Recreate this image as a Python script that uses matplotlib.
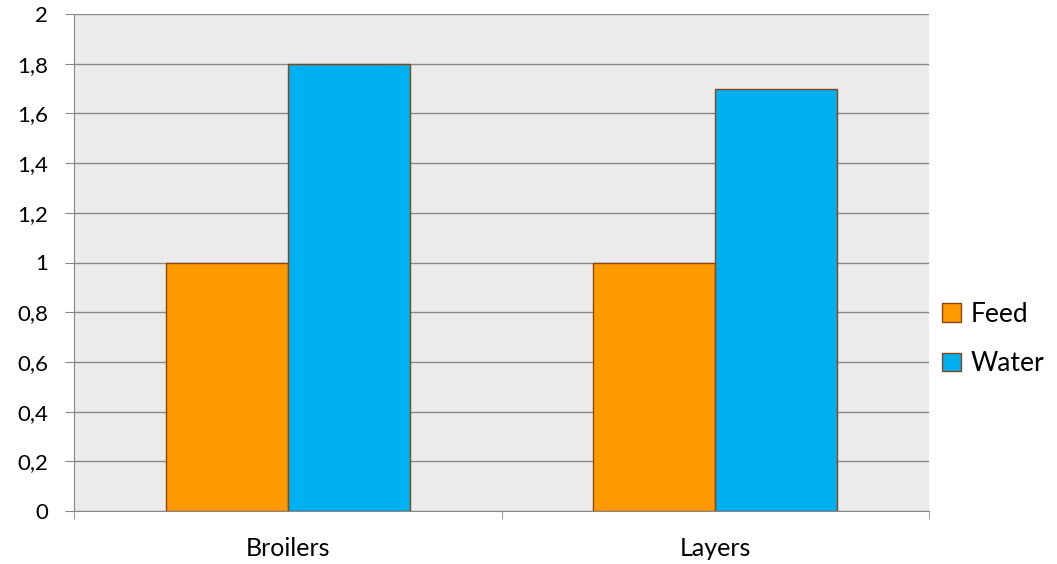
import matplotlib.pyplot as plt
import numpy as np

categories = ["Broilers", "Layers"]
feed = [1.0, 1.0]
water = [1.8, 1.7]
y_ticks = [0, 0.2, 0.4, 0.6, 0.8, 1.0, 1.2, 1.4, 1.6, 1.8, 2.0]
y_labels = ["0", "0,2", "0,4", "0,6", "0,8", "1", "1,2", "1,4", "1,6", "1,8", "2"]

plt.rcParams['font.family'] = ['Lato', 'DejaVu Sans']

fig = plt.figure(figsize=(10.57, 5.64), dpi=100)
ax = fig.add_axes([74/1057, 53/564, 855/1057, 497/564])
ax.set_facecolor('#EBEBEB')

x = np.arange(len(categories))
width = 0.285
edge = '#8B4513'
ax.bar(x - width/2, feed, width, color='#FF9900', edgecolor=edge, linewidth=1, label='Feed', zorder=3)
ax.bar(x + width/2, water, width, color='#00B0F0', edgecolor=edge, linewidth=1, label='Water', zorder=3)

ax.set_xlim(-0.5, 1.5)
ax.set_ylim(0, 2)
ax.set_yticks(y_ticks, y_labels, fontsize=16)
ax.set_xticks(x, categories, fontsize=18)
ax.set_xticks([-0.5, 0.5, 1.5], minor=True)
ax.tick_params(axis='x', which='major', length=0, pad=19)
ax.tick_params(axis='x', which='minor', length=5.5, color='#888888')
ax.tick_params(axis='y', length=6.5, color='#888888', pad=12)
ax.yaxis.grid(True, color='#888888', linewidth=1, zorder=0)
for side in ['top', 'right']:
    ax.spines[side].set_visible(False)
for side in ['left', 'bottom']:
    ax.spines[side].set_color('#888888')

fig.legend(loc='center left', bbox_to_anchor=(929/1057, 1 - 339/564), frameon=False,
           fontsize=19, borderpad=0, handlelength=0.72, handleheight=0.72,
           handletextpad=0.35, labelspacing=0.93)

fig.savefig('out.png', dpi=100)
